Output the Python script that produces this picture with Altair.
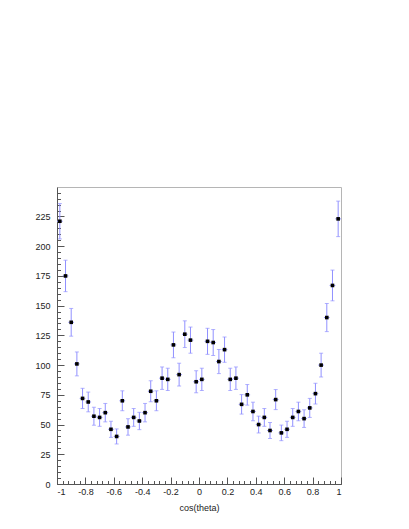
import altair as alt
import pandas as pd

# bin centres of cos(theta) (50 bins from -1 to 1)
cos_theta = [-0.98, -0.94, -0.90, -0.86, -0.82, -0.78, -0.74, -0.70, -0.66, -0.62,
             -0.58, -0.54, -0.50, -0.46, -0.42, -0.38, -0.34, -0.30, -0.26, -0.22,
             -0.18, -0.14, -0.10, -0.06, -0.02, 0.02, 0.06, 0.10, 0.14, 0.18,
             0.22, 0.26, 0.30, 0.34, 0.38, 0.42, 0.46, 0.50, 0.54, 0.58,
             0.62, 0.66, 0.70, 0.74, 0.78, 0.82, 0.86, 0.90, 0.94, 0.98]
# entries per bin
counts = [221, 175, 136, 101, 72, 69, 57, 56, 60, 46,
          40, 70, 48, 56, 53, 60, 78, 70, 89, 88,
          117, 92, 126, 121, 86, 88, 120, 119, 103, 113,
          88, 89, 67, 75, 61, 50, 56, 45, 71, 43,
          46, 56, 61, 55, 64, 76, 100, 140, 167, 223]
bin_half_width = 0.02

x_major = [-1, -0.8, -0.6, -0.4, -0.2, 0, 0.2, 0.4, 0.6, 0.8, 1]
x_minor = [round(-1 + 0.04 * i, 2) for i in range(51)]
y_major = [0, 25, 50, 75, 100, 125, 150, 175, 200, 225]
y_minor = list(range(0, 250, 5))
x_domain = [-1, 1]
y_domain = [0, 249.8]

W, H = 284, 297
ERR_COLOR = "#9090ff"
FONT = "Liberation Sans"

df = pd.DataFrame({"x": cos_theta, "n": counts})

xs = alt.Scale(domain=x_domain, nice=False, zero=False)
ys = alt.Scale(domain=y_domain, nice=False, zero=False)

base = alt.Chart(df).transform_calculate(
    lo="datum.n - sqrt(datum.n)",
    hi="datum.n + sqrt(datum.n)",
    xlo=f"datum.x - {bin_half_width}",
    xhi=f"datum.x + {bin_half_width}",
)

def inside_x(vals, size):
    return alt.Axis(orient="top", offset=-H, values=vals, tickSize=size, labels=False,
                    domain=False, grid=False, title="", tickColor="#555555", tickWidth=1)

def inside_y(vals, size):
    return alt.Axis(orient="right", offset=-W, values=vals, tickSize=size, labels=False,
                    domain=False, grid=False, title="", tickColor="#555555", tickWidth=1)

vbars = base.mark_rule(color=ERR_COLOR, strokeWidth=1).encode(
    x=alt.X("x:Q", scale=xs, axis=inside_x(x_major, 7)),
    y=alt.Y("lo:Q", scale=ys, axis=inside_y(y_major, 7)),
    y2="hi:Q",
)

hbars = base.mark_rule(color=ERR_COLOR, strokeWidth=1).encode(
    x=alt.X("xlo:Q", scale=xs, axis=inside_x(x_minor, 3.5)),
    x2="xhi:Q",
    y=alt.Y("n:Q", scale=ys, axis=inside_y(y_minor, 3.5)),
)

cap_lo = base.mark_tick(color=ERR_COLOR, orient="horizontal", size=4, thickness=1).encode(
    x=alt.X("x:Q", scale=xs, axis=None),
    y=alt.Y("lo:Q", scale=ys, axis=None),
)
cap_hi = base.mark_tick(color=ERR_COLOR, orient="horizontal", size=4, thickness=1).encode(
    x=alt.X("x:Q", scale=xs, axis=None),
    y=alt.Y("hi:Q", scale=ys, axis=None),
)

points = base.mark_square(color="black", size=13, opacity=1).encode(
    x=alt.X("x:Q", scale=xs, axis=alt.Axis(
        orient="bottom", values=x_major, tickSize=0, labelPadding=3, grid=False,
        labelExpr="toString(datum.value)", labelFont=FONT, labelFontSize=9,
        labelColor="#222222", domainColor="#555555", title="cos(theta)",
        titleFont=FONT, titleFontSize=9, titleFontWeight="normal", titleColor="#222222",
        titlePadding=7)),
    y=alt.Y("n:Q", scale=ys, axis=alt.Axis(
        orient="left", values=y_major, tickSize=0, labelPadding=7, grid=False,
        labelFont=FONT, labelFontSize=9, labelColor="#222222",
        domainColor="#555555", title="")),
)

chart = alt.layer(vbars, hbars, cap_lo, cap_hi, points).resolve_axis(
    x="independent", y="independent"
).properties(
    width=W, height=H,
    autosize=alt.AutoSizeParams(type="none"),
    padding={"left": 49, "top": 179, "right": 60, "bottom": 37},
    background="white",
).configure_view(stroke="#b5b5b5", strokeWidth=1)

chart.save("out.html", embed_options={"renderer": "svg", "actions": False})
